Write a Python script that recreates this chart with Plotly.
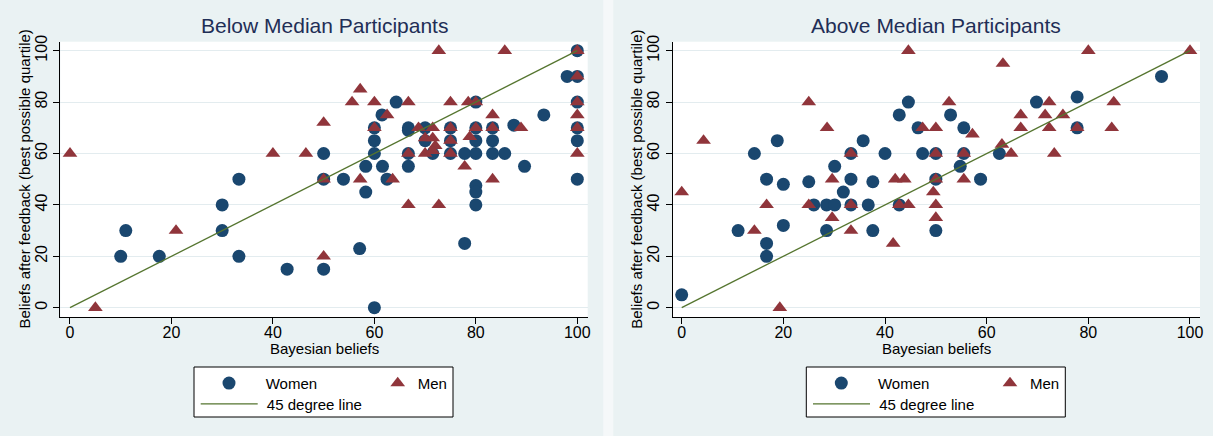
import plotly.graph_objects as go

# ---------------- data ----------------
below_women_x = [10, 11, 17.6, 30, 30, 33.3, 33.3, 42.8, 50, 50, 50, 53.9, 57.1, 58.3, 58.3,
                 60, 60, 60, 60, 61.5, 61.6, 62.5, 64.3, 66.7, 66.7, 66.7, 66.7, 70, 70, 71.5,
                 75, 75, 75, 77.8, 77.8, 80, 80, 80, 80, 80, 80, 80, 83.3, 83.3, 83.3, 85.7,
                 87.5, 89.6, 93.4, 98, 100, 100, 100, 100, 100, 100]
below_women_y = [20, 30, 20, 40, 30, 20, 50, 15, 60, 50, 15, 50, 23, 55, 45,
                 70, 65, 60, 0, 75, 55, 50, 80, 70, 69, 60, 55, 70, 65, 60,
                 70, 65, 60, 60, 25, 80, 70, 65, 60, 47.5, 45, 40, 70, 65, 60, 60,
                 71, 55, 75, 90, 100, 90, 80, 70, 65, 50]

below_men_x = [0, 5, 20.9, 40, 46.5, 50, 50, 50, 55.6, 57.2, 57.2, 60, 60, 62.5, 63.6, 66.7,
               66.7, 66.7, 68.7, 70, 71.5, 72, 70, 71.5, 71.5, 72.7, 72.7, 75, 75, 75, 75,
               77.8, 78.5, 78.8, 80, 80, 83.3, 83.3, 83.3, 85.7, 88.9, 100, 100, 100, 100,
               100, 100]
below_men_y = [60, 0, 30, 60, 60, 72, 50, 20, 80, 85, 50, 80, 70, 75, 50, 80,
               60, 40, 70, 66, 66, 63, 60, 61, 70, 100, 40, 80, 70, 65, 60,
               55, 80, 66.5, 80, 70, 75, 70, 50, 100, 70, 100, 90, 80, 75,
               70, 60]

above_women_x = [0, 11.1, 14.3, 16.7, 16.7, 16.7, 18.8, 20, 20, 25, 26, 28.5, 28.5, 30.1,
                 30.1, 31.8, 33.3, 33.3, 33.3, 35.7, 36.7, 37.6, 37.6, 40, 42.8, 42.8, 44.6,
                 46.5, 47.4, 50, 50, 50, 52.9, 54.8, 55.5, 55.5, 58.8, 62.5, 69.8, 77.8,
                 77.8, 94.4]
above_women_y = [5, 30, 60, 50, 25, 20, 65, 48, 32, 49, 40, 40, 30, 55,
                 40, 45, 60, 50, 40, 65, 40, 49, 30, 60, 75, 40, 80,
                 70, 60, 60, 50, 30, 75, 55, 70, 60, 50, 60, 80, 82,
                 70, 90]

above_men_x = [0, 4.3, 14.3, 16.7, 19.3, 25, 25, 28.6, 29.6, 29.6, 33.3, 33.3, 33.3, 41.6,
               42, 43.8, 42.8, 44.6, 44.6, 47.4, 49.5, 50, 50, 50, 50, 50, 52.6, 55.5, 55.5,
               57.2, 63.2, 63, 64.8, 66.7, 66.7, 71.5, 72.3, 72.3, 73.3, 75, 77.8, 80, 84.6,
               85, 100]
above_men_y = [45, 65, 30, 40, 0, 80, 40, 70, 50, 35, 60, 40, 30, 25,
               50, 50, 40, 40, 100, 70, 45, 70, 60, 50, 40, 35, 80, 60, 50,
               67.5, 95, 63.5, 60, 75, 70, 75, 80, 70, 60, 75, 70, 100, 70,
               80, 100]

line_x = [0, 100]
line_y = [0, 100]

tick_vals = [0, 20, 40, 60, 80, 100]
tick_text = ["0", "20", "40", "60", "80", "100"]

panel_titles = ["Below Median Participants", "Above Median Participants"]
x_title = "Bayesian beliefs"
y_title = "Beliefs after feedback (best possible quartile)"
legend_names = ["Women", "Men", "45 degree line"]

# ---------------- style ----------------
W, H = 1213, 436
NAVY = "#1A476F"
MAROON = "#90353B"
GREEN = "#55752F"
BG = "#EAF2F3"
GRID = "#E3ECEF"
FONT = "Liberation Sans, Arial, sans-serif"


def px(x):
    return x / W


def py(y):
    return 1 - y / H


fig = go.Figure()

panels = [
    dict(wx=below_women_x, wy=below_women_y, mx=below_men_x, my=below_men_y,
         xa="x", ya="y", leg_a="legend", leg_b="legend2", off=0.0),
    dict(wx=above_women_x, wy=above_women_y, mx=above_men_x, my=above_men_y,
         xa="x2", ya="y2", leg_a="legend3", leg_b="legend4", off=612.3),
]

for p in panels:
    fig.add_trace(go.Scatter(x=p["wx"], y=p["wy"], mode="markers", name="    " + legend_names[0],
                             marker=dict(symbol="circle", size=13, color=NAVY, line=dict(width=0)),
                             xaxis=p["xa"], yaxis=p["ya"], legend=p["leg_a"], showlegend=True))
    fig.add_trace(go.Scatter(x=p["mx"], y=p["my"], mode="markers", name=legend_names[1],
                             marker=dict(symbol="triangle-up", size=12.8, color=MAROON, line=dict(width=0)),
                             xaxis=p["xa"], yaxis=p["ya"], legend=p["leg_a"], showlegend=True))
    fig.add_trace(go.Scatter(x=line_x, y=line_y, mode="lines", name=" " + legend_names[2],
                             line=dict(color=GREEN, width=1.3),
                             xaxis=p["xa"], yaxis=p["ya"], legend=p["leg_b"], showlegend=True))

xdomains = [[px(60.3), px(587.7)], [px(672.7), px(1200)]]
xranges = [[-1.91, 102.05], [-1.77, 101.97]]
ydomain = [py(317.3), py(41.7)]
yrange = [-3.74, 103.5]

common_x = dict(tickvals=tick_vals, ticktext=tick_text, showgrid=False, zeroline=False,
                showline=True, linecolor="black", linewidth=1, ticks="outside", ticklen=6,
                tickcolor="black", tickwidth=1, ticklabelstandoff=-6,
                tickfont=dict(size=16, color="black", family=FONT))
common_y = dict(tickvals=tick_vals, ticktext=tick_text, showgrid=True, gridcolor=GRID, gridwidth=1.2,
                zeroline=False, showline=True, linecolor="black", linewidth=1, ticks="outside",
                ticklen=6, tickcolor="black", tickwidth=1, tickangle=-90,
                tickfont=dict(size=16, color="black", family=FONT), range=yrange, domain=ydomain)

fig.update_layout(
    width=W, height=H,
    margin=dict(l=0, r=0, t=0, b=0, autoexpand=False),
    paper_bgcolor=BG, plot_bgcolor="white",
    font=dict(family=FONT, color="black"),
    hovermode=False,
    xaxis=dict(domain=xdomains[0], range=xranges[0], anchor="y", **common_x),
    yaxis=dict(anchor="x", **common_y),
    xaxis2=dict(domain=xdomains[1], range=xranges[1], anchor="y2", **common_x),
    yaxis2=dict(anchor="x2", **common_y),
)

legend_style = dict(orientation="h", xanchor="left", yanchor="top", bgcolor="rgba(0,0,0,0)",
                    borderwidth=0, font=dict(size=15, color="black", family=FONT),
                    tracegroupgap=0)
for p in panels:
    o = p["off"]
    fig.update_layout({
        p["leg_a"]: dict(x=px(209 + o), y=py(366.8), entrywidth=123.7, entrywidthmode="pixels",
                         itemwidth=30, **legend_style),
        p["leg_b"]: dict(x=px(195.7 + o), y=py(387.6), itemwidth=57, **legend_style),
    })

shapes = [
    # light gap between the two graph panels
    dict(type="rect", xref="paper", yref="paper", x0=px(603.3), x1=px(613.3), y0=0, y1=1,
         fillcolor="#F5F8F9", line=dict(width=0), layer="below"),
]
for o in [0.0, 612.3]:
    shapes.append(dict(type="rect", xref="paper", yref="paper", x0=px(194 + o), x1=px(453 + o),
                       y0=py(417), y1=py(367), fillcolor="white",
                       line=dict(color="black", width=1), layer="below"))
fig.update_layout(shapes=shapes)

annotations = []
for i, xd in enumerate(xdomains):
    cx = (xd[0] + xd[1]) / 2
    annotations.append(dict(text=panel_titles[i], x=cx, y=py(25.5), xref="paper", yref="paper",
                            showarrow=False, xanchor="center", yanchor="middle",
                            font=dict(size=21, color="#1F2E56", family=FONT)))
    annotations.append(dict(text=x_title, x=cx, y=py(348.5), xref="paper", yref="paper",
                            showarrow=False, xanchor="center", yanchor="middle",
                            font=dict(size=15, color="black", family=FONT)))
    yx = 24 if i == 0 else 24 + 612.3
    annotations.append(dict(text=y_title, x=px(yx), y=(ydomain[0] + ydomain[1]) / 2,
                            xref="paper", yref="paper", showarrow=False, textangle=-90,
                            xanchor="center", yanchor="middle",
                            font=dict(size=15, color="black", family=FONT)))
fig.update_layout(annotations=annotations)

fig.write_html("out.html", config={"displayModeBar": False},
               post_script="document.body.style.margin='0';document.body.style.overflow='hidden';")
